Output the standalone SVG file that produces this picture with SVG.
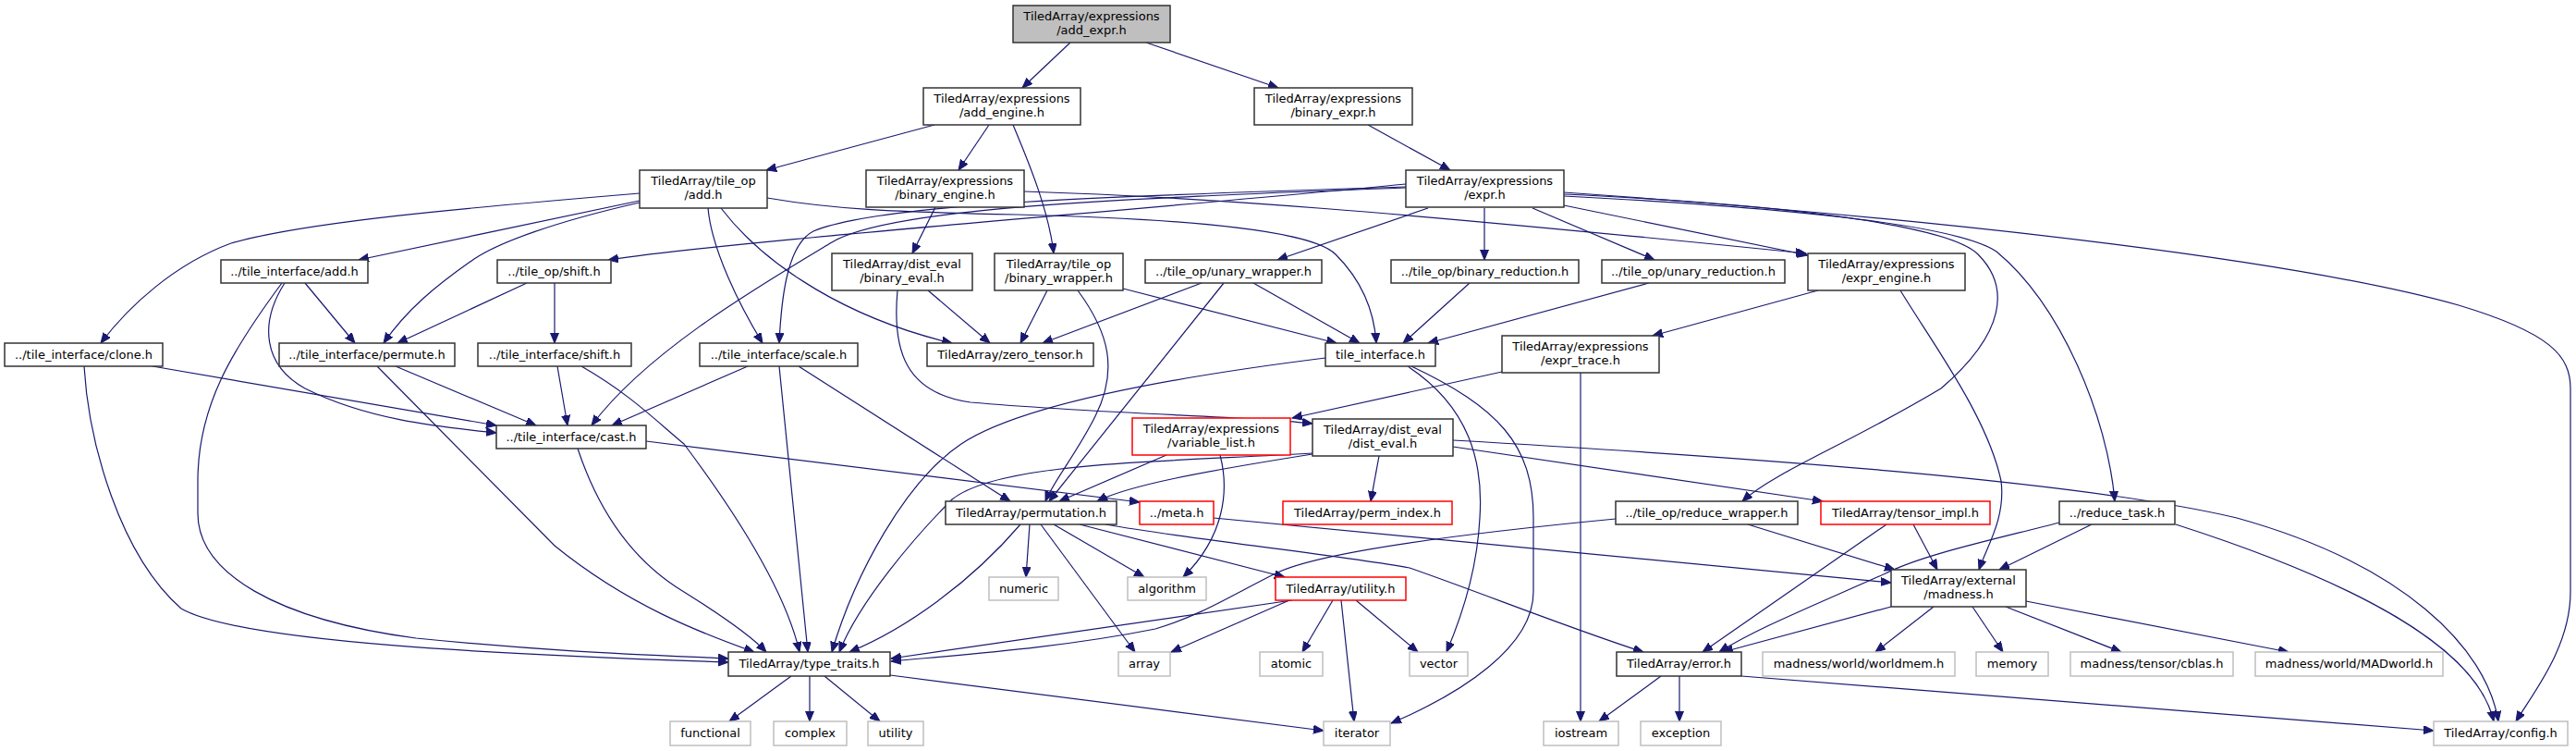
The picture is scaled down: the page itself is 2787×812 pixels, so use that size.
<svg xmlns="http://www.w3.org/2000/svg" width="2787" height="812" viewBox="0 0 2787 812">
<defs>
<style>
.n rect{fill:#ffffff;stroke:#333333;stroke-width:1.5}
.r rect{fill:#ffffff;stroke:#ff0000;stroke-width:1.5}
.g rect{fill:#ffffff;stroke:#bfbfbf;stroke-width:1.5}
.root rect{fill:#bfbfbf;stroke:#333333;stroke-width:1.5}
text{font-family:"DejaVu Sans",sans-serif;font-size:13px;fill:#000000;text-anchor:middle}
#edges path{fill:none;stroke:#191970;stroke-width:1.2;marker-end:url(#ah)}
</style>
<marker id="ah" markerWidth="12" markerHeight="10" refX="11" refY="4.5" orient="auto" markerUnits="userSpaceOnUse"><path d="M0,0 L11,4.5 L0,9 z" fill="#191970" stroke="#191970" stroke-width="1"/></marker>
</defs>
<rect x="0" y="0" width="2787" height="812" fill="#ffffff"/>
<g id="edges">
<path d="M1158,46 L1106,95"/>
<path d="M1240,46 L1383,95"/>
<path d="M1011,135 L829,184"/>
<path d="M1070,135 L1037,184"/>
<path d="M1096,135 C1115,180 1135,230 1140,274"/>
<path d="M1480,135 L1569,184"/>
<path d="M692,209 C500,225 330,240 250,263 C190,285 140,330 109,371"/>
<path d="M692,217 L388,281"/>
<path d="M692,219 C600,240 540,262 513,280 C470,310 440,335 415,371"/>
<path d="M1521,199 C1200,230 800,260 658,281"/>
<path d="M1521,203 C1200,215 960,225 900,262 C820,310 700,380 640,460"/>
<path d="M1521,202 C1200,212 950,220 880,250 C850,265 845,330 843,371"/>
<path d="M1545,225 L1382,281"/>
<path d="M1606,225 L1606,281"/>
<path d="M1658,225 L1790,281"/>
<path d="M1692,222 L1956,276"/>
<path d="M1108,207 C1300,213 1500,228 1954,274"/>
<path d="M1692,208 C2150,240 2500,285 2660,330 C2760,360 2781,385 2781,420 L2781,640 C2781,700 2740,750 2722,780"/>
<path d="M1692,212 C1950,225 2120,245 2160,272 C2230,330 2280,450 2288,542"/>
<path d="M1692,210 C1950,222 2110,245 2140,275 C2175,310 2170,360 2100,420 C2000,480 1920,510 1885,542"/>
<path d="M830,214 C900,226 960,229 1100,232 C1300,237 1420,250 1445,275 C1475,305 1487,340 1489,371"/>
<path d="M766,225 C770,270 800,330 825,371"/>
<path d="M780,225 C830,290 920,345 1030,371"/>
<path d="M1012,224 L987,274"/>
<path d="M1004,314 L1071,371"/>
<path d="M971,314 C965,380 980,425 1050,435 C1200,448 1350,450 1420,458"/>
<path d="M1133,314 L1104,371"/>
<path d="M1166,314 C1200,360 1210,400 1185,450 C1165,490 1140,520 1131,542"/>
<path d="M1215,312 L1446,371"/>
<path d="M1300,306 L1128,371"/>
<path d="M1324,306 L1135,542"/>
<path d="M1356,306 L1471,371"/>
<path d="M1590,306 L1518,371"/>
<path d="M1784,306 L1545,371"/>
<path d="M1967,314 L1788,363"/>
<path d="M2056,314 C2090,370 2150,450 2165,520 C2170,560 2150,590 2141,616"/>
<path d="M1625,402 L1398,452"/>
<path d="M1710,403 L1710,780"/>
<path d="M1434,387 C1250,410 1100,440 1040,480 C980,520 925,620 900,705"/>
<path d="M1523,396 C1590,440 1605,500 1601,560 C1598,620 1580,670 1565,705"/>
<path d="M1527,396 C1620,440 1659,480 1659,560 L1659,640 C1659,700 1580,750 1505,782"/>
<path d="M1492,493 L1483,542"/>
<path d="M1572,483 L1972,542"/>
<path d="M1572,476 C1900,495 2250,520 2420,560 C2600,610 2690,700 2703,780"/>
<path d="M1420,491 C1300,510 1220,525 1187,542"/>
<path d="M1420,490 C1250,500 1080,500 1030,540 C990,580 930,650 908,705"/>
<path d="M809,396 L662,460"/>
<path d="M843,396 L874,705"/>
<path d="M864,396 L1093,542"/>
<path d="M603,396 L614,460"/>
<path d="M629,396 C680,425 710,455 740,480 C800,560 850,640 865,705"/>
<path d="M570,306 L430,371"/>
<path d="M600,306 L600,371"/>
<path d="M330,306 L384,371"/>
<path d="M308,306 C280,350 285,395 330,420 C400,455 480,462 537,468"/>
<path d="M305,306 C250,380 214,440 214,520 L214,555 C214,620 300,670 450,690 C600,705 700,708 788,712"/>
<path d="M165,396 L537,460"/>
<path d="M91,396 C96,480 130,600 196,658 C260,695 550,708 788,716"/>
<path d="M428,396 L580,460"/>
<path d="M408,396 L600,590 C680,655 760,685 816,705"/>
<path d="M625,485 C650,560 690,610 740,640 C780,665 815,690 829,705"/>
<path d="M699,477 L1233,543"/>
<path d="M1262,492 L1146,542"/>
<path d="M1320,492 C1330,530 1325,580 1280,624"/>
<path d="M1114,567 L1110,624"/>
<path d="M1140,567 L1238,624"/>
<path d="M1126,567 L1228,705"/>
<path d="M1104,567 C1050,630 980,680 919,705"/>
<path d="M1168,567 L1390,624"/>
<path d="M1196,567 C1300,585 1450,600 1525,614 C1600,640 1700,680 1778,705"/>
<path d="M1313,560 L2046,630"/>
<path d="M1442,649 L1409,705"/>
<path d="M1451,649 L1465,780"/>
<path d="M1467,649 L1534,705"/>
<path d="M1395,649 L1267,705"/>
<path d="M1398,649 L964,712"/>
<path d="M1748,561 C1550,580 1420,600 1380,620 C1330,645 1300,665 1250,680 C1150,700 1050,707 964,715"/>
<path d="M1891,567 L2050,616"/>
<path d="M2041,567 L1842,705"/>
<path d="M2070,567 L2096,616"/>
<path d="M2263,567 L2163,616"/>
<path d="M2228,565 C2150,585 2080,600 2040,620 C1950,660 1900,680 1860,705"/>
<path d="M2354,567 C2550,630 2680,700 2698,780"/>
<path d="M2046,656 L1864,705"/>
<path d="M2092,656 L2029,705"/>
<path d="M2134,656 L2167,705"/>
<path d="M2170,656 L2295,705"/>
<path d="M2192,650 L2476,705"/>
<path d="M1797,731 L1730,780"/>
<path d="M1817,731 L1817,780"/>
<path d="M1884,731 L2633,790"/>
<path d="M856,731 L789,780"/>
<path d="M876,731 L876,780"/>
<path d="M892,731 L952,780"/>
<path d="M963,730 L1432,790"/>
</g>
<g id="n_add_expr" class="root"><rect x="1096" y="6" width="170" height="40"/><text x="1181" y="22">TiledArray/expressions</text><text x="1181" y="37">/add_expr.h</text></g>
<g id="n_add_engine" class="n"><rect x="999" y="95" width="170" height="40"/><text x="1084" y="111">TiledArray/expressions</text><text x="1084" y="126">/add_engine.h</text></g>
<g id="n_binary_expr" class="n"><rect x="1357" y="95" width="171" height="40"/><text x="1442.5" y="111">TiledArray/expressions</text><text x="1442.5" y="126">/binary_expr.h</text></g>
<g id="n_tile_op_add" class="n"><rect x="692" y="184" width="138" height="41"/><text x="761" y="200">TiledArray/tile_op</text><text x="761" y="215">/add.h</text></g>
<g id="n_binary_engine" class="n"><rect x="937" y="184" width="171" height="40"/><text x="1022.5" y="200">TiledArray/expressions</text><text x="1022.5" y="215">/binary_engine.h</text></g>
<g id="n_expr" class="n"><rect x="1521" y="184" width="171" height="40"/><text x="1606.5" y="200">TiledArray/expressions</text><text x="1606.5" y="215">/expr.h</text></g>
<g id="n_ti_add" class="n"><rect x="239" y="281" width="159" height="25"/><text x="318.5" y="298">../tile_interface/add.h</text></g>
<g id="n_op_shift" class="n"><rect x="538" y="281" width="123" height="25"/><text x="599.5" y="298">../tile_op/shift.h</text></g>
<g id="n_binary_eval" class="n"><rect x="900" y="274" width="152" height="40"/><text x="976" y="290">TiledArray/dist_eval</text><text x="976" y="305">/binary_eval.h</text></g>
<g id="n_binary_wrapper" class="n"><rect x="1076" y="274" width="139" height="40"/><text x="1145.5" y="290">TiledArray/tile_op</text><text x="1145.5" y="305">/binary_wrapper.h</text></g>
<g id="n_unary_wrapper" class="n"><rect x="1239" y="281" width="191" height="25"/><text x="1334.5" y="298">../tile_op/unary_wrapper.h</text></g>
<g id="n_binary_reduction" class="n"><rect x="1505" y="281" width="203" height="25"/><text x="1606.5" y="298">../tile_op/binary_reduction.h</text></g>
<g id="n_unary_reduction" class="n"><rect x="1733" y="281" width="198" height="25"/><text x="1832" y="298">../tile_op/unary_reduction.h</text></g>
<g id="n_expr_engine" class="n"><rect x="1956" y="274" width="170" height="40"/><text x="2041" y="290">TiledArray/expressions</text><text x="2041" y="305">/expr_engine.h</text></g>
<g id="n_clone" class="n"><rect x="5" y="371" width="171" height="25"/><text x="90.5" y="388">../tile_interface/clone.h</text></g>
<g id="n_permute" class="n"><rect x="302" y="371" width="190" height="25"/><text x="397" y="388">../tile_interface/permute.h</text></g>
<g id="n_ti_shift" class="n"><rect x="517" y="371" width="166" height="25"/><text x="600" y="388">../tile_interface/shift.h</text></g>
<g id="n_scale" class="n"><rect x="757" y="371" width="171" height="25"/><text x="842.5" y="388">../tile_interface/scale.h</text></g>
<g id="n_zero_tensor" class="n"><rect x="1003" y="371" width="180" height="25"/><text x="1093" y="388">TiledArray/zero_tensor.h</text></g>
<g id="n_tile_interface" class="n"><rect x="1434" y="371" width="119" height="25"/><text x="1493.5" y="388">tile_interface.h</text></g>
<g id="n_expr_trace" class="n"><rect x="1625" y="363" width="170" height="40"/><text x="1710" y="379">TiledArray/expressions</text><text x="1710" y="394">/expr_trace.h</text></g>
<g id="n_cast" class="n"><rect x="537" y="460" width="162" height="25"/><text x="618" y="477">../tile_interface/cast.h</text></g>
<g id="n_variable_list" class="r"><rect x="1225" y="452" width="171" height="40"/><text x="1310.5" y="468">TiledArray/expressions</text><text x="1310.5" y="483">/variable_list.h</text></g>
<g id="n_dist_eval" class="n"><rect x="1420" y="453" width="152" height="40"/><text x="1496" y="469">TiledArray/dist_eval</text><text x="1496" y="484">/dist_eval.h</text></g>
<g id="n_permutation" class="n"><rect x="1023" y="542" width="185" height="25"/><text x="1115.5" y="559">TiledArray/permutation.h</text></g>
<g id="n_meta" class="r"><rect x="1233" y="542" width="80" height="25"/><text x="1273" y="559">../meta.h</text></g>
<g id="n_perm_index" class="r"><rect x="1388" y="542" width="183" height="25"/><text x="1479.5" y="559">TiledArray/perm_index.h</text></g>
<g id="n_reduce_wrapper" class="n"><rect x="1748" y="542" width="197" height="25"/><text x="1846.5" y="559">../tile_op/reduce_wrapper.h</text></g>
<g id="n_tensor_impl" class="r"><rect x="1970" y="542" width="183" height="25"/><text x="2061.5" y="559">TiledArray/tensor_impl.h</text></g>
<g id="n_reduce_task" class="n"><rect x="2228" y="542" width="125" height="25"/><text x="2290.5" y="559">../reduce_task.h</text></g>
<g id="n_numeric" class="g"><rect x="1070" y="624" width="75" height="25"/><text x="1107.5" y="641">numeric</text></g>
<g id="n_algorithm" class="g"><rect x="1220" y="624" width="85" height="25"/><text x="1262.5" y="641">algorithm</text></g>
<g id="n_utility_h" class="r"><rect x="1380" y="624" width="141" height="25"/><text x="1450.5" y="641">TiledArray/utility.h</text></g>
<g id="n_madness" class="n"><rect x="2046" y="616" width="146" height="40"/><text x="2119" y="632">TiledArray/external</text><text x="2119" y="647">/madness.h</text></g>
<g id="n_type_traits" class="n"><rect x="788" y="705" width="175" height="26"/><text x="875.5" y="722">TiledArray/type_traits.h</text></g>
<g id="n_array" class="g"><rect x="1210" y="705" width="56" height="26"/><text x="1238" y="722">array</text></g>
<g id="n_atomic" class="g"><rect x="1363" y="705" width="68" height="26"/><text x="1397" y="722">atomic</text></g>
<g id="n_vector" class="g"><rect x="1525" y="705" width="63" height="26"/><text x="1556.5" y="722">vector</text></g>
<g id="n_error" class="n"><rect x="1749" y="705" width="135" height="26"/><text x="1816.5" y="722">TiledArray/error.h</text></g>
<g id="n_worldmem" class="g"><rect x="1907" y="705" width="208" height="26"/><text x="2011" y="722">madness/world/worldmem.h</text></g>
<g id="n_memory" class="g"><rect x="2138" y="705" width="78" height="26"/><text x="2177" y="722">memory</text></g>
<g id="n_cblas" class="g"><rect x="2240" y="705" width="176" height="26"/><text x="2328" y="722">madness/tensor/cblas.h</text></g>
<g id="n_madworld" class="g"><rect x="2440" y="705" width="203" height="26"/><text x="2541.5" y="722">madness/world/MADworld.h</text></g>
<g id="n_functional" class="g"><rect x="725" y="780" width="87" height="26"/><text x="768.5" y="797">functional</text></g>
<g id="n_complex" class="g"><rect x="837" y="780" width="79" height="26"/><text x="876.5" y="797">complex</text></g>
<g id="n_utility" class="g"><rect x="939" y="780" width="60" height="26"/><text x="969" y="797">utility</text></g>
<g id="n_iterator" class="g"><rect x="1432" y="780" width="72" height="26"/><text x="1468" y="797">iterator</text></g>
<g id="n_iostream" class="g"><rect x="1670" y="780" width="81" height="26"/><text x="1710.5" y="797">iostream</text></g>
<g id="n_exception" class="g"><rect x="1775" y="780" width="87" height="26"/><text x="1818.5" y="797">exception</text></g>
<g id="n_config" class="g"><rect x="2633" y="780" width="145" height="26"/><text x="2705.5" y="797">TiledArray/config.h</text></g>
</svg>
